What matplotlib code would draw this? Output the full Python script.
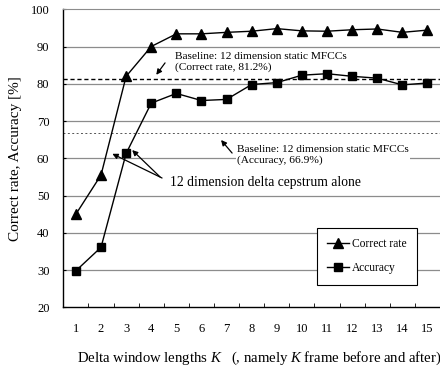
import matplotlib
matplotlib.use("Agg")
import matplotlib.pyplot as plt

# data
K = list(range(1, 16))
CORRECT_RATE = [45.0, 55.5, 82.0, 90.0, 93.4, 93.4, 93.8, 94.1, 94.8, 94.2, 94.1, 94.5, 94.7, 93.8, 94.4]
ACCURACY = [29.8, 36.1, 61.3, 74.8, 77.4, 75.5, 75.8, 79.8, 80.3, 82.3, 82.7, 82.0, 81.5, 79.7, 80.2]
BASELINE_CORRECT = 81.2
BASELINE_ACCURACY = 66.9
Y_TICKS = [20, 30, 40, 50, 60, 70, 80, 90, 100]

plt.rcParams["font.family"] = ["Liberation Serif", "DejaVu Serif"]
plt.rcParams["mathtext.fontset"] = "custom"
plt.rcParams["mathtext.rm"] = "Liberation Serif"
plt.rcParams["mathtext.it"] = "Liberation Serif:italic"

fig = plt.figure(figsize=(4.4, 3.7), dpi=100)
ax = fig.add_axes([0.144, 0.1695, 0.856, 0.8055])

# grid
for y in Y_TICKS[1:-1]:
    ax.axhline(y, color="#8c8c8c", lw=0.9, zorder=0)

# baselines
ax.axhline(BASELINE_CORRECT, color="black", lw=1.0, dashes=(3, 2), zorder=1)
ax.axhline(BASELINE_ACCURACY, color="#555555", lw=0.7, dashes=(2, 2.5), zorder=1)

ax.plot(K, CORRECT_RATE, color="black", lw=1.0, marker="^", markersize=6.5,
        label="Correct rate", zorder=3)
ax.plot(K, ACCURACY, color="black", lw=1.0, marker="s", markersize=6,
        label="Accuracy", zorder=3)

ax.set_xlim(0.5, 15.5)
ax.set_ylim(20, 100)
ax.set_yticks(Y_TICKS)
ax.set_xticks(K)
ax.set_xticks([k + 0.5 for k in K[:-1]], minor=True)
ax.tick_params(axis="x", which="major", length=0, pad=11, labelsize=9)
ax.tick_params(axis="x", which="minor", direction="in", length=3, width=0.6)
ax.tick_params(axis="y", direction="in", length=2, labelsize=9, pad=10)

ax.spines["right"].set_visible(False)
ax.spines["top"].set_color("#8c8c8c")
ax.spines["left"].set_linewidth(1.0)
ax.spines["bottom"].set_linewidth(1.0)

ax.set_ylabel("Correct rate, Accuracy [%]", fontsize=11, labelpad=6)
ax.set_xlabel(r"Delta window lengths $K$   (, namely $K$ frame before and after)",
              fontsize=10.6, labelpad=11, x=0.52)

arrow = dict(arrowstyle="-|>", color="black", lw=0.9, mutation_scale=8,
             shrinkA=0, shrinkB=0)

# baseline annotations
ax.text(4.96, 85.8, "Baseline: 12 dimension static MFCCs\n(Correct rate, 81.2%)",
        fontsize=8.2, va="center", ha="left", linespacing=1.2)
ax.annotate("", xy=(4.2, 82.4), xytext=(4.55, 85.6), arrowprops=arrow)

ax.text(7.42, 61.0, "Baseline: 12 dimension static MFCCs\n(Accuracy, 66.9%)",
        fontsize=8.2, va="center", ha="left", linespacing=1.2,
        bbox=dict(facecolor="white", edgecolor="none", pad=1))
ax.annotate("", xy=(6.78, 64.9), xytext=(7.22, 61.4), arrowprops=arrow)

# delta cepstrum annotation
ax.text(4.76, 53.6, "12 dimension delta cepstrum alone", fontsize=9.8,
        va="center", ha="left")
ax.annotate("", xy=(2.45, 61.2), xytext=(4.43, 54.7), arrowprops=arrow)
ax.annotate("", xy=(3.24, 62.2), xytext=(4.35, 55.0), arrowprops=arrow)

leg = ax.legend(loc="upper left", bbox_to_anchor=(0.673, 0.266), borderaxespad=0,
                fontsize=8.3, fancybox=False, framealpha=1, edgecolor="black",
                handlelength=1.9, handletextpad=0.25, borderpad=0.9,
                labelspacing=1.05)
leg.get_frame().set_linewidth(0.8)

fig.savefig("out.png", dpi=100)
